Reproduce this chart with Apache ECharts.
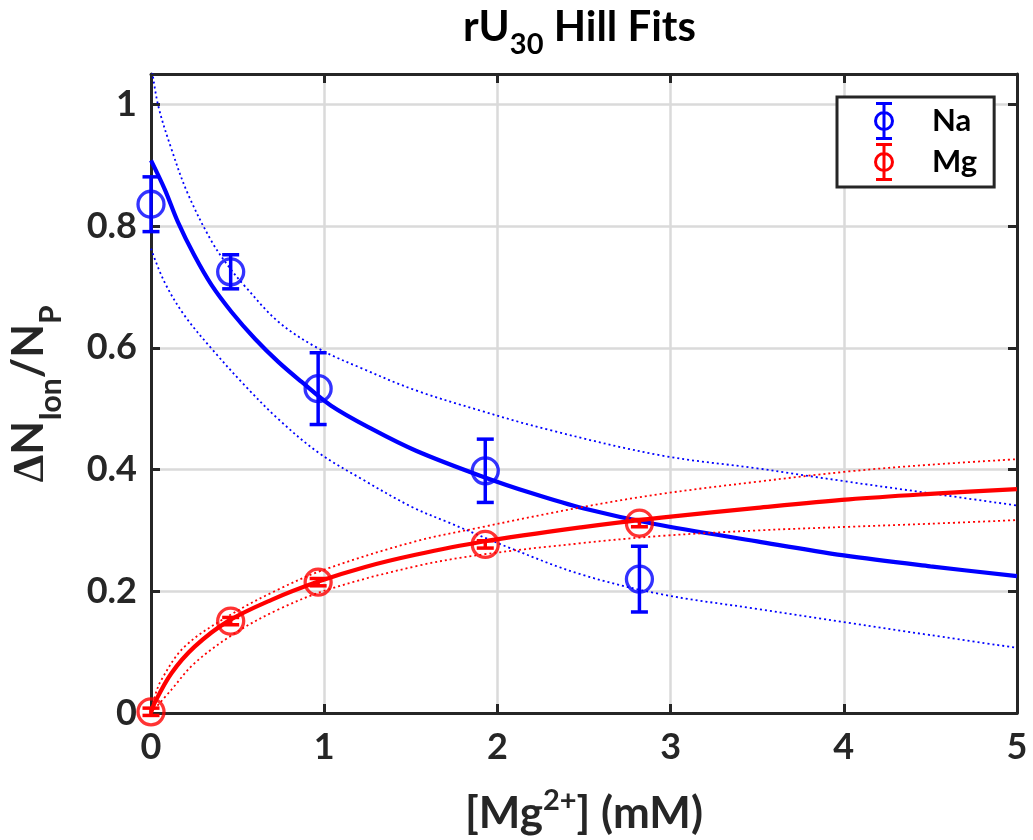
<!DOCTYPE html>
<html>
<head>
<meta charset="utf-8">
<title>rU30 Hill Fits</title>
<script src="https://cdn.jsdelivr.net/npm/echarts@6/dist/echarts.min.js"></script>
<style>
  html, body { margin: 0; padding: 0; background: #fff; }
  #chart { width: 1033px; height: 840px; }
</style>
</head>
<body>
<div id="chart"></div>
<script>
// measured points, [Mg2+] in mM
const concX = [0, 0.46, 0.965, 1.93, 2.82];
const naVal = [0.836, 0.725, 0.533, 0.398, 0.220];
const naErr = [0.045, 0.028, 0.059, 0.052, 0.054];
const mgVal = [0.002, 0.151, 0.215, 0.277, 0.312];
const mgErr = [0.006, 0.006, 0.006, 0.006, 0.006];

// Hill fit curves (solid) and bounds (dotted)
const naFitX = [0, 0.08, 0.155, 0.25, 0.35, 0.465, 0.6, 0.735, 0.87, 1.04, 1.28, 1.53, 1.9, 2.2, 2.5, 2.9, 3.5, 4.0, 4.5, 5];
const naFitY = [0.908, 0.860, 0.807, 0.752, 0.703, 0.659, 0.615, 0.577, 0.544, 0.505, 0.466, 0.431, 0.390, 0.361, 0.336, 0.311, 0.282, 0.259, 0.241, 0.225];
const naHiX = [0, 0.04, 0.12, 0.213, 0.35, 0.45, 0.54, 0.735, 0.966, 1.22, 1.53, 1.9, 2.3, 2.95, 3.5, 4.0, 4.5, 5];
const naHiY = [1.07, 1.0, 0.925, 0.853, 0.775, 0.733, 0.702, 0.643, 0.599, 0.566, 0.530, 0.497, 0.465, 0.423, 0.402, 0.381, 0.361, 0.341];
const naLoX = [0, 0.078, 0.194, 0.349, 0.542, 0.735, 0.966, 1.22, 1.51, 1.71, 2.1, 2.48, 2.93, 3.5, 4.03, 4.5, 5];
const naLoY = [0.763, 0.708, 0.653, 0.599, 0.538, 0.483, 0.428, 0.384, 0.338, 0.314, 0.268, 0.228, 0.196, 0.171, 0.148, 0.128, 0.107];

const mgFitX = [0, 0.02, 0.117, 0.252, 0.445, 0.696, 0.966, 1.237, 1.527, 1.903, 2.483, 2.946, 3.5, 4.03, 4.5, 5];
const mgFitY = [0.0, 0.016, 0.065, 0.109, 0.151, 0.186, 0.216, 0.240, 0.260, 0.281, 0.305, 0.321, 0.337, 0.351, 0.360, 0.368];
const mgHiX = [0, 0.02, 0.059, 0.194, 0.445, 0.735, 1.005, 1.527, 1.903, 2.483, 2.946, 3.5, 4.03, 4.5, 5];
const mgHiY = [0.0, 0.025, 0.054, 0.109, 0.159, 0.203, 0.236, 0.282, 0.305, 0.338, 0.360, 0.380, 0.397, 0.408, 0.417];
const mgLoX = [0, 0.117, 0.252, 0.484, 0.735, 1.024, 1.527, 1.903, 2.483, 2.946, 3.5, 4.03, 4.5, 5];
const mgLoY = [0.0, 0.038, 0.082, 0.131, 0.170, 0.203, 0.241, 0.260, 0.279, 0.291, 0.300, 0.306, 0.311, 0.317];

const BLUE = '#0000ff';
const RED = '#ff0000';
const INK = '#262626';
const FONT = 'Lato';

function pairs(xs, ys) {
  return xs.map(function (x, i) { return [x, ys[i]]; });
}

function barData(vals, errs) {
  return concX.map(function (x, i) { return [x, vals[i] - errs[i], vals[i] + errs[i]]; });
}

// errorbar: vertical line with caps
function errorBar(color) {
  return function (params, api) {
    const x = api.value(0);
    const top = api.coord([x, api.value(2)]);
    const bot = api.coord([x, api.value(1)]);
    const w = 8.5;
    const style = {stroke: color, lineWidth: 3.5};
    return {
      type: 'group',
      children: [
        {type: 'line', shape: {x1: top[0], y1: top[1], x2: bot[0], y2: bot[1]}, style: style},
        {type: 'line', shape: {x1: top[0] - w, y1: top[1], x2: top[0] + w, y2: top[1]}, style: style},
        {type: 'line', shape: {x1: bot[0] - w, y1: bot[1], x2: bot[0] + w, y2: bot[1]}, style: style}
      ]
    };
  };
}

function fitLine(name, data, color, dotted) {
  return {
    name: name,
    type: 'line',
    data: data,
    smooth: 0.35,
    showSymbol: false,
    silent: true,
    clip: true,
    lineStyle: dotted ? {color: color, width: 1.8, type: [2, 3]} : {color: color, width: 4.2},
    z: 3
  };
}

// circle + errorbar legend glyph, filled path with a hole
const legendIcon = 'path://M8.5,0H11.5V38H8.5Z M2,0H18V3H2Z M2,35H18V38H2Z ' +
  'M0,19A10,10 0 1,1 20,19A10,10 0 1,1 0,19Z M3,19A7,7 0 1,0 17,19A7,7 0 1,0 3,19Z';

const myChart = echarts.init(document.getElementById('chart'));

const axisLine = {show: true, onZero: false, lineStyle: {color: INK, width: 3}};
const axisTick = {show: true, inside: true, length: 9, lineStyle: {color: INK, width: 3}};
const tickFont = {color: INK, fontSize: 36, fontWeight: 'bold', fontFamily: FONT};

const option = {
  animation: false,
  backgroundColor: '#fff',
  title: {
    text: '{m|rU}{s|30}{m| Hill Fits}',
    left: 463,
    top: 6,
    padding: 0,
    textStyle: {
      rich: {
        m: {fontSize: 42, fontWeight: 'bold', fontFamily: FONT, color: '#000', verticalAlign: 'top'},
        s: {fontSize: 29, fontWeight: 'bold', fontFamily: FONT, color: '#000', lineHeight: 78}
      }
    }
  },
  legend: {
    orient: 'vertical',
    left: 837,
    top: 97,
    padding: [5, 17, 6, 37],
    itemGap: 3,
    itemWidth: 20,
    itemHeight: 38,
    backgroundColor: '#fff',
    borderColor: INK,
    borderWidth: 3,
    borderRadius: 0,
    textStyle: {fontSize: 31, fontWeight: 'bold', fontFamily: FONT, color: '#000', padding: [0, 0, 0, 33]},
    data: [
      {name: 'Na', icon: legendIcon, itemStyle: {color: BLUE, borderWidth: 0}},
      {name: 'Mg', icon: legendIcon, itemStyle: {color: RED, borderWidth: 0}}
    ]
  },
  grid: {left: 151, right: 16, top: 74, bottom: 127, containLabel: false, outerBoundsMode: 'none'},
  xAxis: [{
    type: 'value',
    min: 0,
    max: 5,
    interval: 1,
    name: '{m|[Mg}{s|2+}{m|] (mM)}',
    nameLocation: 'middle',
    nameGap: 73,
    nameTextStyle: {
      rich: {
        m: {fontSize: 44, fontWeight: 'bold', fontFamily: FONT, color: INK, lineHeight: 56},
        s: {fontSize: 29, fontWeight: 'bold', fontFamily: FONT, color: INK, verticalAlign: 'top'}
      }
    },
    axisLine: axisLine,
    axisTick: axisTick,
    axisLabel: Object.assign({margin: 16}, tickFont),
    splitLine: {show: true, lineStyle: {color: '#dadada', width: 2.5}}
  }, {
    type: 'value',
    position: 'top',
    min: 0,
    max: 5,
    interval: 1,
    axisLine: axisLine,
    axisTick: axisTick,
    axisLabel: {show: false},
    splitLine: {show: false}
  }],
  yAxis: [{
    type: 'value',
    min: 0,
    max: 1.05,
    interval: 0.2,
    name: '{m|\u2206N}{s|Ion}{m|/N}{s|P}',
    nameLocation: 'middle',
    nameGap: 56,
    nameRotate: 90,
    nameTextStyle: {
      rich: {
        m: {fontSize: 44, fontWeight: 'bold', fontFamily: FONT, color: INK, verticalAlign: 'top'},
        s: {fontSize: 30, fontWeight: 'bold', fontFamily: FONT, color: INK, lineHeight: 88}
      }
    },
    axisLine: axisLine,
    axisTick: axisTick,
    axisLabel: Object.assign({margin: 14, showMaxLabel: false}, tickFont),
    splitLine: {show: true, lineStyle: {color: '#dadada', width: 2.5}}
  }, {
    type: 'value',
    position: 'right',
    min: 0,
    max: 1.05,
    interval: 0.2,
    axisLine: axisLine,
    axisTick: axisTick,
    axisLabel: {show: false},
    splitLine: {show: false}
  }],
  series: [
    fitLine('Na fit', pairs(naFitX, naFitY), BLUE, false),
    fitLine('Na hi', pairs(naHiX, naHiY), BLUE, true),
    fitLine('Na lo', pairs(naLoX, naLoY), BLUE, true),
    fitLine('Mg fit', pairs(mgFitX, mgFitY), RED, false),
    fitLine('Mg hi', pairs(mgHiX, mgHiY), RED, true),
    fitLine('Mg lo', pairs(mgLoX, mgLoY), RED, true),
    {
      name: 'Na',
      type: 'custom',
      renderItem: errorBar(BLUE),
      encode: {x: 0, y: [1, 2]},
      data: barData(naVal, naErr),
      clip: false,
      itemStyle: {color: BLUE},
      z: 4
    },
    {
      name: 'Mg',
      type: 'custom',
      renderItem: errorBar(RED),
      encode: {x: 0, y: [1, 2]},
      data: barData(mgVal, mgErr),
      clip: false,
      itemStyle: {color: RED},
      z: 4
    },
    {
      name: 'Na',
      type: 'scatter',
      data: pairs(concX, naVal),
      symbol: 'circle',
      symbolSize: 26,
      clip: false,
      itemStyle: {color: 'rgba(0,0,0,0)', borderColor: BLUE, borderWidth: 3.3},
      z: 5
    },
    {
      name: 'Mg',
      type: 'scatter',
      data: pairs(concX, mgVal),
      symbol: 'circle',
      symbolSize: 26,
      clip: false,
      itemStyle: {color: 'rgba(0,0,0,0)', borderColor: RED, borderWidth: 3.3},
      z: 5
    }
  ]
};

myChart.setOption(option);
window.onresize = myChart.resize;
</script>
</body>
</html>
